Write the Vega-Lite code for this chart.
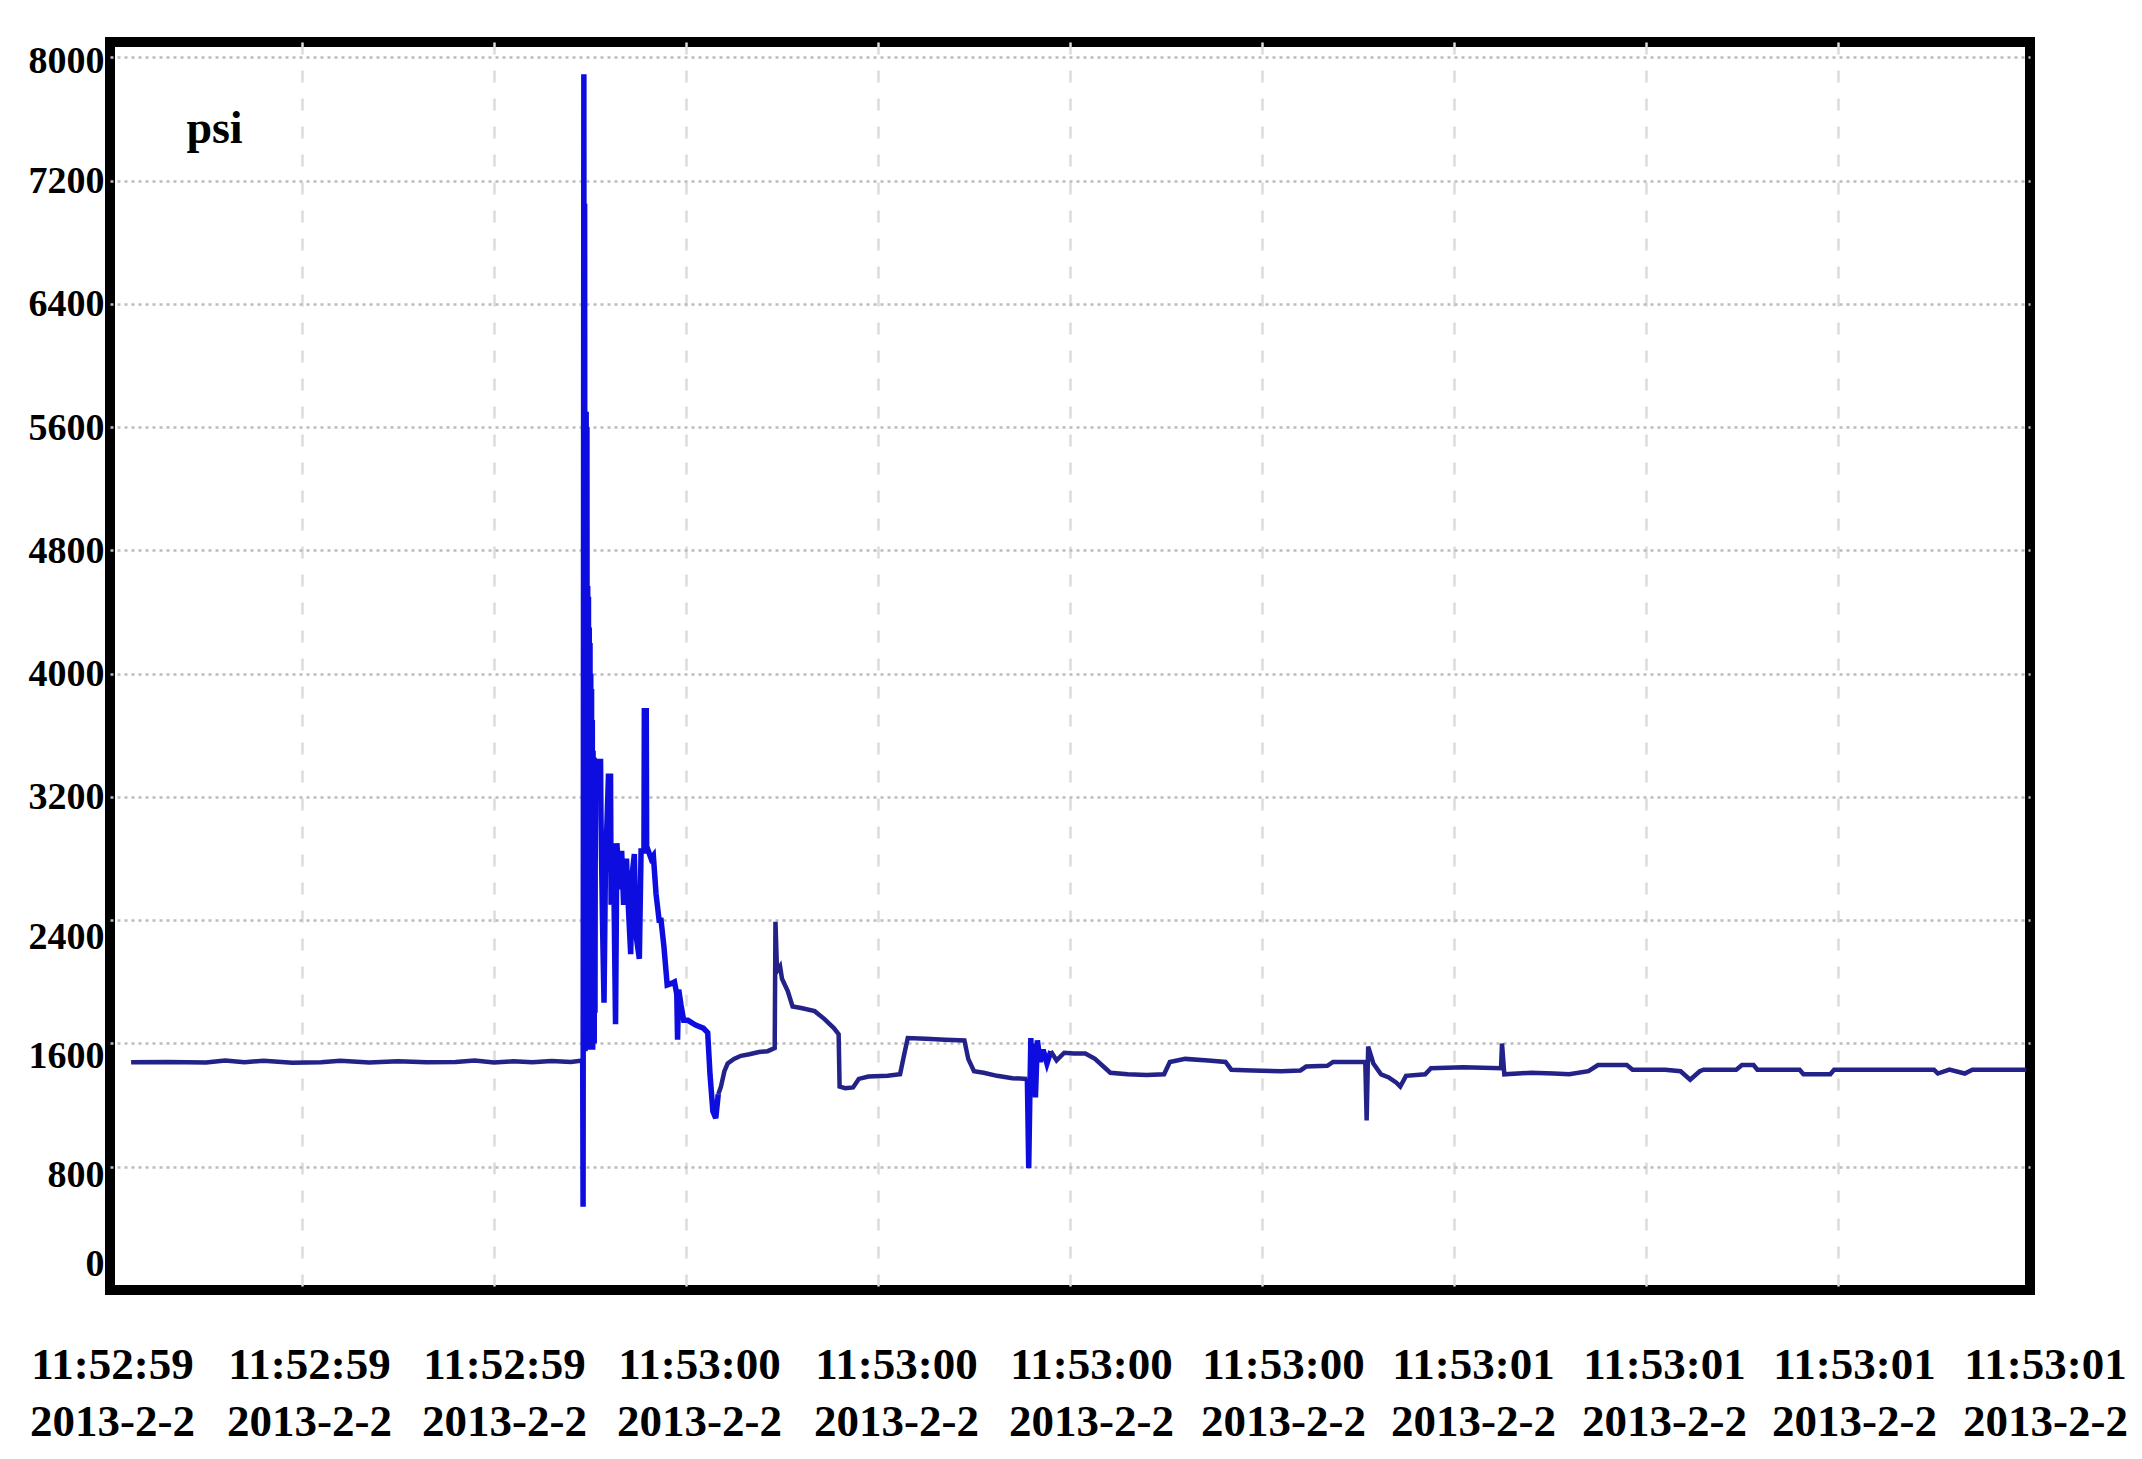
{
  "$schema": "https://vega.github.io/schema/vega-lite/v6.json",
  "width": 1920,
  "height": 1248,
  "autosize": {"type": "none"},
  "padding": {"left": 110, "top": 42, "right": 112, "bottom": 169},
  "background": "white",
  "config": {
    "view": {"stroke": "black", "strokeWidth": 10},
    "font": "Liberation Serif"
  },
  "data": {
    "values": [
      {"t": 0.11, "p": 1478, "seg": 1, "phase": "steady"},
      {"t": 0.3, "p": 1480, "seg": 1, "phase": "steady"},
      {"t": 0.5, "p": 1476, "seg": 1, "phase": "steady"},
      {"t": 0.6, "p": 1490, "seg": 1, "phase": "steady"},
      {"t": 0.7, "p": 1478, "seg": 1, "phase": "steady"},
      {"t": 0.8, "p": 1488, "seg": 1, "phase": "steady"},
      {"t": 0.95, "p": 1475, "seg": 1, "phase": "steady"},
      {"t": 1.1, "p": 1478, "seg": 1, "phase": "steady"},
      {"t": 1.2, "p": 1488, "seg": 1, "phase": "steady"},
      {"t": 1.35, "p": 1476, "seg": 1, "phase": "steady"},
      {"t": 1.5, "p": 1485, "seg": 1, "phase": "steady"},
      {"t": 1.65, "p": 1478, "seg": 1, "phase": "steady"},
      {"t": 1.8, "p": 1480, "seg": 1, "phase": "steady"},
      {"t": 1.9, "p": 1490, "seg": 1, "phase": "steady"},
      {"t": 2.0, "p": 1476, "seg": 1, "phase": "steady"},
      {"t": 2.1, "p": 1484, "seg": 1, "phase": "steady"},
      {"t": 2.2, "p": 1478, "seg": 1, "phase": "steady"},
      {"t": 2.3, "p": 1486, "seg": 1, "phase": "steady"},
      {"t": 2.4, "p": 1480, "seg": 1, "phase": "steady"},
      {"t": 2.462, "p": 1490, "seg": 1, "phase": "steady"},

      {"t": 2.462, "p": 1490, "seg": 2, "phase": "burst"},
      {"t": 2.464, "p": 540, "seg": 2, "phase": "burst"},
      {"t": 2.468, "p": 7890, "seg": 2, "phase": "burst"},
      {"t": 2.47, "p": 1600, "seg": 2, "phase": "burst"},
      {"t": 2.472, "p": 7050, "seg": 2, "phase": "burst"},
      {"t": 2.474, "p": 1550, "seg": 2, "phase": "burst"},
      {"t": 2.476, "p": 5700, "seg": 2, "phase": "burst"},
      {"t": 2.478, "p": 1650, "seg": 2, "phase": "burst"},
      {"t": 2.48, "p": 5700, "seg": 2, "phase": "burst"},
      {"t": 2.482, "p": 1560, "seg": 2, "phase": "burst"},
      {"t": 2.484, "p": 5600, "seg": 2, "phase": "burst"},
      {"t": 2.486, "p": 1600, "seg": 2, "phase": "burst"},
      {"t": 2.488, "p": 4570, "seg": 2, "phase": "burst"},
      {"t": 2.49, "p": 1700, "seg": 2, "phase": "burst"},
      {"t": 2.492, "p": 4500, "seg": 2, "phase": "burst"},
      {"t": 2.494, "p": 1560, "seg": 2, "phase": "burst"},
      {"t": 2.496, "p": 4300, "seg": 2, "phase": "burst"},
      {"t": 2.498, "p": 1620, "seg": 2, "phase": "burst"},
      {"t": 2.5, "p": 4200, "seg": 2, "phase": "burst"},
      {"t": 2.502, "p": 1580, "seg": 2, "phase": "burst"},
      {"t": 2.504, "p": 4000, "seg": 2, "phase": "burst"},
      {"t": 2.506, "p": 1650, "seg": 2, "phase": "burst"},
      {"t": 2.508, "p": 3900, "seg": 2, "phase": "burst"},
      {"t": 2.51, "p": 1600, "seg": 2, "phase": "burst"},
      {"t": 2.512, "p": 3700, "seg": 2, "phase": "burst"},
      {"t": 2.514, "p": 1560, "seg": 2, "phase": "burst"},
      {"t": 2.516, "p": 3500, "seg": 2, "phase": "burst"},
      {"t": 2.518, "p": 1700, "seg": 2, "phase": "burst"},
      {"t": 2.52, "p": 3450, "seg": 2, "phase": "burst"},
      {"t": 2.522, "p": 1600, "seg": 2, "phase": "burst"},
      {"t": 2.524, "p": 3440, "seg": 2, "phase": "burst"},
      {"t": 2.526, "p": 1800, "seg": 2, "phase": "burst"},
      {"t": 2.528, "p": 3435, "seg": 2, "phase": "burst"},
      {"t": 2.531, "p": 3430, "seg": 2, "phase": "burst"},
      {"t": 2.555, "p": 3430, "seg": 2, "phase": "burst"},
      {"t": 2.557, "p": 3080, "seg": 2, "phase": "burst"},
      {"t": 2.565, "p": 2400, "seg": 2, "phase": "burst"},
      {"t": 2.573, "p": 1865, "seg": 2, "phase": "burst"},
      {"t": 2.58, "p": 2700, "seg": 2, "phase": "burst"},
      {"t": 2.596, "p": 3335, "seg": 2, "phase": "burst"},
      {"t": 2.607, "p": 3335, "seg": 2, "phase": "burst"},
      {"t": 2.61, "p": 2500, "seg": 2, "phase": "burst"},
      {"t": 2.622, "p": 2900, "seg": 2, "phase": "burst"},
      {"t": 2.633, "p": 1725, "seg": 2, "phase": "burst"},
      {"t": 2.64, "p": 2900, "seg": 2, "phase": "burst"},
      {"t": 2.655, "p": 2600, "seg": 2, "phase": "burst"},
      {"t": 2.665, "p": 2850, "seg": 2, "phase": "burst"},
      {"t": 2.675, "p": 2500, "seg": 2, "phase": "burst"},
      {"t": 2.69, "p": 2800, "seg": 2, "phase": "burst"},
      {"t": 2.7, "p": 2480, "seg": 2, "phase": "burst"},
      {"t": 2.712, "p": 2180, "seg": 2, "phase": "burst"},
      {"t": 2.72, "p": 2700, "seg": 2, "phase": "burst"},
      {"t": 2.731, "p": 2830, "seg": 2, "phase": "burst"},
      {"t": 2.74, "p": 2300, "seg": 2, "phase": "burst"},
      {"t": 2.757, "p": 2150, "seg": 2, "phase": "burst"},
      {"t": 2.766, "p": 2850, "seg": 2, "phase": "burst"},
      {"t": 2.781, "p": 2850, "seg": 2, "phase": "burst"},
      {"t": 2.783, "p": 3760, "seg": 2, "phase": "burst"},
      {"t": 2.793, "p": 3760, "seg": 2, "phase": "burst"},
      {"t": 2.795, "p": 2880, "seg": 2, "phase": "burst"},
      {"t": 2.818, "p": 2800, "seg": 2, "phase": "burst"},
      {"t": 2.83, "p": 2820, "seg": 2, "phase": "burst"},
      {"t": 2.844, "p": 2570, "seg": 2, "phase": "burst"},
      {"t": 2.86, "p": 2400, "seg": 2, "phase": "burst"},
      {"t": 2.87, "p": 2400, "seg": 2, "phase": "burst"},
      {"t": 2.885, "p": 2230, "seg": 2, "phase": "burst"},
      {"t": 2.902, "p": 1980, "seg": 2, "phase": "burst"},
      {"t": 2.925, "p": 1990, "seg": 2, "phase": "burst"},
      {"t": 2.94, "p": 2000, "seg": 2, "phase": "burst"},
      {"t": 2.952, "p": 1920, "seg": 2, "phase": "burst"},
      {"t": 2.956, "p": 1625, "seg": 2, "phase": "burst"},
      {"t": 2.962, "p": 1950, "seg": 2, "phase": "burst"},
      {"t": 2.974, "p": 1850, "seg": 2, "phase": "burst"},
      {"t": 2.988, "p": 1750, "seg": 2, "phase": "burst"},
      {"t": 3.01, "p": 1750, "seg": 2, "phase": "burst"},
      {"t": 3.05, "p": 1720, "seg": 2, "phase": "burst"},
      {"t": 3.09, "p": 1700, "seg": 2, "phase": "burst"},
      {"t": 3.113, "p": 1670, "seg": 2, "phase": "burst"},
      {"t": 3.125, "p": 1400, "seg": 2, "phase": "burst"},
      {"t": 3.14, "p": 1160, "seg": 2, "phase": "burst"},
      {"t": 3.155, "p": 1115, "seg": 2, "phase": "burst"},
      {"t": 3.168, "p": 1270, "seg": 2, "phase": "burst"},

      {"t": 3.168, "p": 1270, "seg": 3, "phase": "steady"},
      {"t": 3.182, "p": 1320, "seg": 3, "phase": "steady"},
      {"t": 3.2, "p": 1420, "seg": 3, "phase": "steady"},
      {"t": 3.217, "p": 1470, "seg": 3, "phase": "steady"},
      {"t": 3.25, "p": 1500, "seg": 3, "phase": "steady"},
      {"t": 3.286, "p": 1520, "seg": 3, "phase": "steady"},
      {"t": 3.33, "p": 1530, "seg": 3, "phase": "steady"},
      {"t": 3.38, "p": 1545, "seg": 3, "phase": "steady"},
      {"t": 3.425, "p": 1550, "seg": 3, "phase": "steady"},
      {"t": 3.462, "p": 1570, "seg": 3, "phase": "steady"},
      {"t": 3.466, "p": 2390, "seg": 3, "phase": "steady"},
      {"t": 3.474, "p": 2070, "seg": 3, "phase": "steady"},
      {"t": 3.49, "p": 2100, "seg": 3, "phase": "steady"},
      {"t": 3.5, "p": 2020, "seg": 3, "phase": "steady"},
      {"t": 3.53, "p": 1940, "seg": 3, "phase": "steady"},
      {"t": 3.555, "p": 1840, "seg": 3, "phase": "steady"},
      {"t": 3.6, "p": 1830, "seg": 3, "phase": "steady"},
      {"t": 3.67, "p": 1810, "seg": 3, "phase": "steady"},
      {"t": 3.72, "p": 1760, "seg": 3, "phase": "steady"},
      {"t": 3.77, "p": 1700, "seg": 3, "phase": "steady"},
      {"t": 3.795, "p": 1660, "seg": 3, "phase": "steady"},
      {"t": 3.8, "p": 1320, "seg": 3, "phase": "steady"},
      {"t": 3.83, "p": 1310, "seg": 3, "phase": "steady"},
      {"t": 3.87, "p": 1315, "seg": 3, "phase": "steady"},
      {"t": 3.9, "p": 1370, "seg": 3, "phase": "steady"},
      {"t": 3.95, "p": 1385, "seg": 3, "phase": "steady"},
      {"t": 4.05, "p": 1390, "seg": 3, "phase": "steady"},
      {"t": 4.115, "p": 1400, "seg": 3, "phase": "steady"},
      {"t": 4.135, "p": 1520, "seg": 3, "phase": "steady"},
      {"t": 4.155, "p": 1635, "seg": 3, "phase": "steady"},
      {"t": 4.25, "p": 1630, "seg": 3, "phase": "steady"},
      {"t": 4.35, "p": 1625, "seg": 3, "phase": "steady"},
      {"t": 4.45, "p": 1620, "seg": 3, "phase": "steady"},
      {"t": 4.47, "p": 1500, "seg": 3, "phase": "steady"},
      {"t": 4.5, "p": 1420, "seg": 3, "phase": "steady"},
      {"t": 4.55, "p": 1410, "seg": 3, "phase": "steady"},
      {"t": 4.62, "p": 1390, "seg": 3, "phase": "steady"},
      {"t": 4.7, "p": 1375, "seg": 3, "phase": "steady"},
      {"t": 4.778, "p": 1370, "seg": 3, "phase": "steady"},

      {"t": 4.778, "p": 1370, "seg": 4, "phase": "burst"},
      {"t": 4.785, "p": 790, "seg": 4, "phase": "burst"},
      {"t": 4.79, "p": 1200, "seg": 4, "phase": "burst"},
      {"t": 4.796, "p": 1635, "seg": 4, "phase": "burst"},
      {"t": 4.802, "p": 1300, "seg": 4, "phase": "burst"},
      {"t": 4.81, "p": 1600, "seg": 4, "phase": "burst"},
      {"t": 4.82, "p": 1250, "seg": 4, "phase": "burst"},
      {"t": 4.83, "p": 1620, "seg": 4, "phase": "burst"},
      {"t": 4.845, "p": 1480, "seg": 4, "phase": "burst"},
      {"t": 4.86, "p": 1560, "seg": 4, "phase": "burst"},
      {"t": 4.88, "p": 1470, "seg": 4, "phase": "burst"},
      {"t": 4.9, "p": 1550, "seg": 4, "phase": "burst"},

      {"t": 4.9, "p": 1550, "seg": 5, "phase": "steady"},
      {"t": 4.93, "p": 1490, "seg": 5, "phase": "steady"},
      {"t": 4.97, "p": 1540, "seg": 5, "phase": "steady"},
      {"t": 5.02, "p": 1535, "seg": 5, "phase": "steady"},
      {"t": 5.08, "p": 1535, "seg": 5, "phase": "steady"},
      {"t": 5.13, "p": 1500, "seg": 5, "phase": "steady"},
      {"t": 5.21, "p": 1410, "seg": 5, "phase": "steady"},
      {"t": 5.3, "p": 1400, "seg": 5, "phase": "steady"},
      {"t": 5.4, "p": 1395, "seg": 5, "phase": "steady"},
      {"t": 5.49, "p": 1400, "seg": 5, "phase": "steady"},
      {"t": 5.52, "p": 1480, "seg": 5, "phase": "steady"},
      {"t": 5.6, "p": 1500, "seg": 5, "phase": "steady"},
      {"t": 5.72, "p": 1490, "seg": 5, "phase": "steady"},
      {"t": 5.81, "p": 1480, "seg": 5, "phase": "steady"},
      {"t": 5.84, "p": 1430, "seg": 5, "phase": "steady"},
      {"t": 5.95, "p": 1425, "seg": 5, "phase": "steady"},
      {"t": 6.1, "p": 1420, "seg": 5, "phase": "steady"},
      {"t": 6.2, "p": 1425, "seg": 5, "phase": "steady"},
      {"t": 6.23, "p": 1450, "seg": 5, "phase": "steady"},
      {"t": 6.34, "p": 1455, "seg": 5, "phase": "steady"},
      {"t": 6.37, "p": 1480, "seg": 5, "phase": "steady"},
      {"t": 6.538, "p": 1480, "seg": 5, "phase": "steady"},
      {"t": 6.545, "p": 1100, "seg": 5, "phase": "steady"},
      {"t": 6.553, "p": 1580, "seg": 5, "phase": "steady"},
      {"t": 6.58, "p": 1470, "seg": 5, "phase": "steady"},
      {"t": 6.62, "p": 1400, "seg": 5, "phase": "steady"},
      {"t": 6.66, "p": 1380, "seg": 5, "phase": "steady"},
      {"t": 6.7, "p": 1345, "seg": 5, "phase": "steady"},
      {"t": 6.72, "p": 1320, "seg": 5, "phase": "steady"},
      {"t": 6.75, "p": 1390, "seg": 5, "phase": "steady"},
      {"t": 6.85, "p": 1400, "seg": 5, "phase": "steady"},
      {"t": 6.88, "p": 1440, "seg": 5, "phase": "steady"},
      {"t": 7.05, "p": 1445, "seg": 5, "phase": "steady"},
      {"t": 7.245, "p": 1440, "seg": 5, "phase": "steady"},
      {"t": 7.25, "p": 1600, "seg": 5, "phase": "steady"},
      {"t": 7.262, "p": 1400, "seg": 5, "phase": "steady"},
      {"t": 7.4, "p": 1410, "seg": 5, "phase": "steady"},
      {"t": 7.52, "p": 1405, "seg": 5, "phase": "steady"},
      {"t": 7.6, "p": 1400, "seg": 5, "phase": "steady"},
      {"t": 7.7, "p": 1420, "seg": 5, "phase": "steady"},
      {"t": 7.75, "p": 1460, "seg": 5, "phase": "steady"},
      {"t": 7.9, "p": 1460, "seg": 5, "phase": "steady"},
      {"t": 7.93, "p": 1430, "seg": 5, "phase": "steady"},
      {"t": 8.1, "p": 1430, "seg": 5, "phase": "steady"},
      {"t": 8.18, "p": 1420, "seg": 5, "phase": "steady"},
      {"t": 8.23, "p": 1365, "seg": 5, "phase": "steady"},
      {"t": 8.28, "p": 1420, "seg": 5, "phase": "steady"},
      {"t": 8.3, "p": 1430, "seg": 5, "phase": "steady"},
      {"t": 8.47, "p": 1430, "seg": 5, "phase": "steady"},
      {"t": 8.5, "p": 1460, "seg": 5, "phase": "steady"},
      {"t": 8.56, "p": 1460, "seg": 5, "phase": "steady"},
      {"t": 8.58, "p": 1430, "seg": 5, "phase": "steady"},
      {"t": 8.8, "p": 1430, "seg": 5, "phase": "steady"},
      {"t": 8.82, "p": 1400, "seg": 5, "phase": "steady"},
      {"t": 8.96, "p": 1400, "seg": 5, "phase": "steady"},
      {"t": 8.98, "p": 1430, "seg": 5, "phase": "steady"},
      {"t": 9.2, "p": 1430, "seg": 5, "phase": "steady"},
      {"t": 9.5, "p": 1430, "seg": 5, "phase": "steady"},
      {"t": 9.52, "p": 1405, "seg": 5, "phase": "steady"},
      {"t": 9.58, "p": 1430, "seg": 5, "phase": "steady"},
      {"t": 9.66, "p": 1405, "seg": 5, "phase": "steady"},
      {"t": 9.7, "p": 1430, "seg": 5, "phase": "steady"},
      {"t": 9.98, "p": 1430, "seg": 5, "phase": "steady"}
    ]
  },
  "mark": {"type": "line", "strokeJoin": "miter", "strokeCap": "butt"},
  "encoding": {
    "x": {
      "field": "t",
      "type": "quantitative",
      "scale": {"domain": [0, 10], "nice": false, "zero": false},
      "axis": {
        "values": [0, 1, 2, 3, 4, 5, 6, 7, 8, 9, 10],
        "title": null,
        "domain": false,
        "ticks": false,
        "grid": true,
        "gridColor": "#dcdcdc",
        "gridDash": [12, 16],
        "gridWidth": 2.5,
        "gridOpacity": {
          "condition": {"test": "datum.value === 0 || datum.value === 10", "value": 0},
          "value": 1
        },
        "labelExpr": "[datum.value < 2.5 ? '11:52:59' : datum.value < 6.5 ? '11:53:00' : '11:53:01', '2013-2-2']",
        "labelFont": "Liberation Serif",
        "labelFontWeight": "bold",
        "labelFontSize": 45,
        "labelColor": "black",
        "labelLineHeight": 57,
        "labelBaseline": "top",
        "labelPadding": 52,
        "labelOffset": {
          "condition": [
            {"test": "datum.value === 0", "value": 2},
            {"test": "datum.value === 1", "value": 7},
            {"test": "datum.value === 2", "value": 10},
            {"test": "datum.value === 3", "value": 13},
            {"test": "datum.value === 4", "value": 18},
            {"test": "datum.value === 5", "value": 21},
            {"test": "datum.value === 6", "value": 21},
            {"test": "datum.value === 7", "value": 19},
            {"test": "datum.value === 8", "value": 18},
            {"test": "datum.value === 9", "value": 16}
          ],
          "value": 15
        },
        "labelFlush": false,
        "labelOverlap": false,
        "labelBound": false
      }
    },
    "y": {
      "field": "p",
      "type": "quantitative",
      "scale": {"domain": [0, 8100], "nice": false, "zero": true},
      "axis": {
        "values": [0, 800, 1600, 2400, 3200, 4000, 4800, 5600, 6400, 7200, 8000],
        "format": "d",
        "title": "psi",
        "titleAngle": 0,
        "titleX": 104,
        "titleY": 100,
        "titleAlign": "center",
        "titleBaseline": "alphabetic",
        "titleFont": "Liberation Serif",
        "titleFontWeight": "bold",
        "titleFontSize": 46,
        "titleColor": "black",
        "domain": false,
        "ticks": false,
        "grid": true,
        "gridColor": "#bcbcbc",
        "gridDash": [3, 4],
        "gridWidth": 2.5,
        "gridOpacity": {
          "condition": {"test": "datum.value === 0", "value": 0},
          "value": 1
        },
        "labelFont": "Liberation Serif",
        "labelFontWeight": "bold",
        "labelFontSize": 38,
        "labelColor": "black",
        "labelPadding": 6,
        "labelFlush": false,
        "labelOverlap": false,
        "labelBound": false,
        "labelOffset": {
          "condition": [
            {"test": "datum.value === 0", "value": -26},
            {"test": "datum.value === 800", "value": 9},
            {"test": "datum.value === 1600", "value": 13},
            {"test": "datum.value === 2400", "value": 17},
            {"test": "datum.value === 8000", "value": 4}
          ],
          "value": 1
        }
      }
    },
    "color": {
      "field": "phase",
      "type": "nominal",
      "scale": {"domain": ["steady", "burst"], "range": ["#222288", "#0d0de0"]},
      "legend": null
    },
    "size": {
      "field": "phase",
      "type": "nominal",
      "scale": {"domain": ["steady", "burst"], "range": [4.5, 5.5]},
      "legend": null
    },
    "detail": {"field": "seg", "type": "nominal"},
    "order": {"field": "t", "type": "quantitative"}
  }
}
